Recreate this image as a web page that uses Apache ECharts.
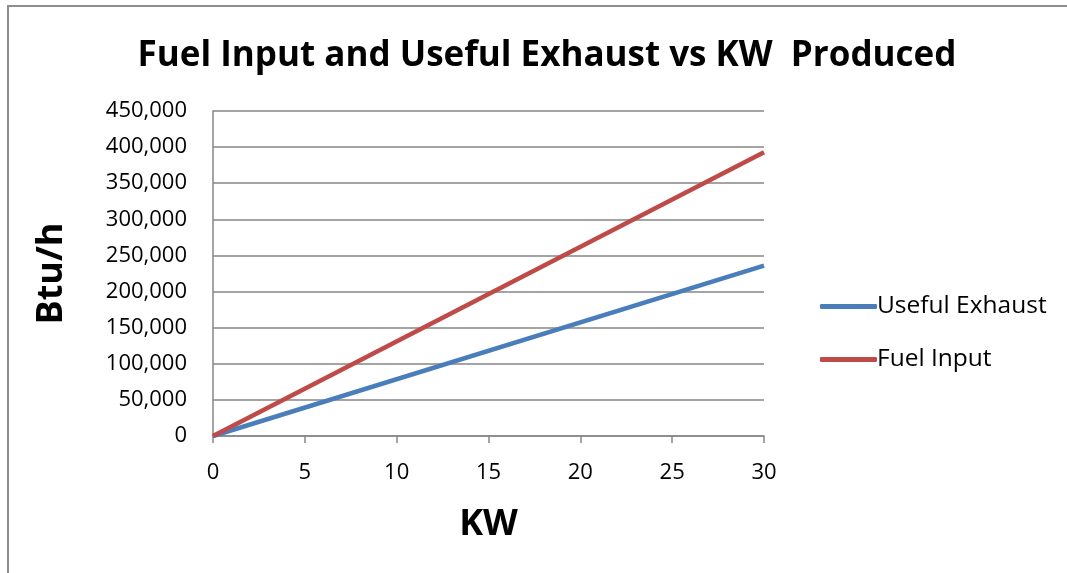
<!DOCTYPE html>
<html>
<head>
<meta charset="utf-8">
<script src="https://cdn.jsdelivr.net/npm/echarts@6/dist/echarts.min.js"></script>
<style>
  html, body { margin: 0; padding: 0; background: #fff; }
  .frame {
    position: absolute; left: 7px; top: 5px; width: 1200px; height: 700px;
    border-left: 2px solid #8c8c8c; border-top: 2px solid #8c8c8c;
  }
  #chart { position: absolute; left: 0; top: 0; width: 1067px; height: 573px; }
</style>
</head>
<body>
<div class="frame"></div>
<div id="chart"></div>
<script>
  // KW produced vs Btu/h
  var exhaustData = [[0, 0], [30, 236000]]   // Useful Exhaust
  var fuelData = [[0, 0], [30, 393000]]      // Fuel Input
  var seriesNames = ['Useful Exhaust', 'Fuel Input']
  var seriesColors = ['#4a7ebb', '#be4b48']

  var font = 'Open Sans'
  var myChart = echarts.init(document.getElementById('chart'))

  var option = {
    animation: false,
    title: {
      text: 'Fuel Input and Useful Exhaust vs KW  Produced',
      left: 542,
      top: 34,
      textAlign: 'center',
      textStyle: { fontFamily: font, fontWeight: 'bold', fontSize: 35, color: '#000' }
    },
    legend: {
      orient: 'vertical',
      left: 815,
      top: 289,
      itemWidth: 57,
      itemHeight: 5,
      itemGap: 28,
      icon: 'roundRect',
      textStyle: { fontFamily: font, fontSize: 24.5, color: '#000', padding: [0, 0, 0, -5] },
      data: seriesNames
    },
    grid: { left: 213, top: 111, width: 551, height: 325, containLabel: false },
    xAxis: {
      type: 'value',
      min: 0,
      max: 30,
      interval: 5,
      name: 'KW',
      nameLocation: 'middle',
      nameGap: 71,
      nameTextStyle: { fontFamily: font, fontWeight: 'bold', fontSize: 36, color: '#000' },
      axisLine: { lineStyle: { color: '#868686', width: 1.5 } },
      axisTick: { show: true, length: 7, lineStyle: { color: '#868686', width: 1.5 } },
      axisLabel: { fontFamily: font, fontSize: 22, color: '#000', margin: 26 },
      splitLine: { show: false }
    },
    yAxis: {
      type: 'value',
      min: 0,
      max: 450000,
      interval: 50000,
      name: 'Btu/h',
      nameLocation: 'middle',
      nameGap: 143,
      nameRotate: 90,
      nameTextStyle: { fontFamily: font, fontWeight: 'bold', fontSize: 36, color: '#000' },
      axisLine: { show: true, lineStyle: { color: '#868686', width: 1.5 } },
      axisTick: { show: false },
      axisLabel: {
        fontFamily: font, fontSize: 22, color: '#000', margin: 26,
        formatter: function(v) { return v.toLocaleString('en-US') }
      },
      splitLine: { show: true, lineStyle: { color: '#868686', width: 1.5 } }
    },
    series: [{
      name: seriesNames[0],
      type: 'line',
      data: exhaustData,
      symbol: 'none',
      lineStyle: { width: 4.5, color: seriesColors[0] },
      itemStyle: { color: seriesColors[0] }
    }, {
      name: seriesNames[1],
      type: 'line',
      data: fuelData,
      symbol: 'none',
      lineStyle: { width: 4.5, color: seriesColors[1] },
      itemStyle: { color: seriesColors[1] }
    }]
  }

  myChart.setOption(option)
</script>
</body>
</html>
